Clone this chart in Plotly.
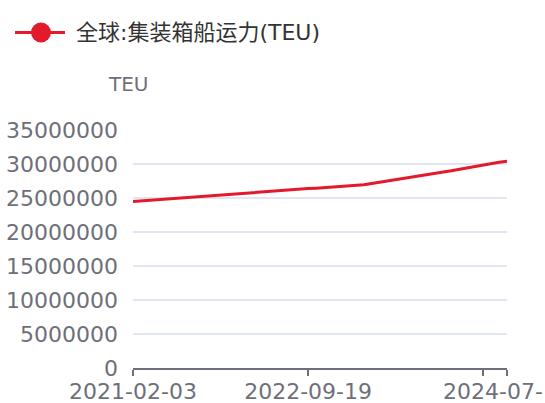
import plotly.graph_objects as go

series_name = "全球:集装箱船运力(TEU)"
y_unit = "TEU"

dates = [
    "2021-02-03", "2021-03-02", "2021-03-29", "2021-04-25", "2021-05-22",
    "2021-06-18", "2021-07-15", "2021-08-11", "2021-09-07", "2021-10-04",
    "2021-10-31", "2021-11-27", "2021-12-24", "2022-01-20", "2022-02-16",
    "2022-03-15", "2022-04-11", "2022-05-08", "2022-06-04", "2022-07-01",
    "2022-07-28", "2022-08-24", "2022-09-19", "2022-10-16", "2022-11-11",
    "2022-12-08", "2023-01-03", "2023-01-30", "2023-02-25", "2023-03-24",
    "2023-04-19", "2023-05-16", "2023-06-11", "2023-07-08", "2023-08-03",
    "2023-08-30", "2023-09-25", "2023-10-22", "2023-11-17", "2023-12-14",
    "2024-01-09", "2024-02-05", "2024-03-02", "2024-03-29", "2024-04-24",
    "2024-05-21", "2024-06-16", "2024-07-13",
]

capacity_teu = [
    24500000, 24590000, 24680000, 24760000, 24850000,
    24940000, 25030000, 25120000, 25200000, 25290000,
    25380000, 25470000, 25560000, 25640000, 25730000,
    25820000, 25910000, 26000000, 26080000, 26170000,
    26250000, 26320000, 26380000, 26450000, 26520000,
    26590000, 26660000, 26740000, 26830000, 26950000,
    27120000, 27320000, 27520000, 27720000, 27920000,
    28100000, 28280000, 28460000, 28640000, 28820000,
    29000000, 29220000, 29440000, 29660000, 29880000,
    30080000, 30260000, 30400000,
]

label_every = 22
y_ticks = [0, 5000000, 10000000, 15000000, 20000000, 25000000, 30000000, 35000000]

RED = "#E3192C"
GRAY = "#6E7079"
FONT = "DejaVu Sans, Noto Sans CJK SC, sans-serif"

W, H = 545, 403
ML, MR, MT, MB = 133, 38, 130, 35
PW, PH = W - ML - MR, H - MT - MB


def px_x(p):
    return (p - ML) / PW


def px_y(p):
    return (H - MB - p) / PH


last = len(dates) - 1
tick_idx = list(range(0, len(dates), label_every))
if tick_idx[-1] != last:
    tick_idx.append(last)
tickvals = [dates[i] for i in tick_idx]
# labels at the first interval ticks and at the axis end (the one before it is hidden by overlap)
ticktext = [dates[i] if (i in (0, label_every) or i == last) else "" for i in tick_idx]

fig = go.Figure()
fig.add_trace(go.Scatter(
    x=dates, y=capacity_teu, mode="lines", name=series_name,
    line=dict(color=RED, width=3), showlegend=False,
))

# legend drawn manually (line + circle + text)
fig.add_shape(type="line", xref="paper", yref="paper",
              x0=px_x(15), x1=px_x(65), y0=px_y(32.5), y1=px_y(32.5),
              line=dict(color=RED, width=3))
fig.add_shape(type="circle", xref="paper", yref="paper",
              x0=px_x(31), x1=px_x(51), y0=px_y(22.5), y1=px_y(42.5),
              fillcolor=RED, line=dict(color=RED, width=0))
fig.add_annotation(xref="paper", yref="paper", x=px_x(74), y=px_y(32.5),
                   text=series_name, showarrow=False, xanchor="left", yanchor="middle",
                   font=dict(family=FONT, size=22, color="#333333"))
fig.add_annotation(xref="paper", yref="paper", x=px_x(128), y=px_y(84),
                   text=y_unit, showarrow=False, xanchor="center", yanchor="middle",
                   font=dict(family=FONT, size=20, color=GRAY))

fig.update_layout(
    width=W, height=H,
    margin=dict(l=ML, r=MR, t=MT, b=MB, pad=0, autoexpand=False),
    paper_bgcolor="white", plot_bgcolor="white",
    font=dict(family=FONT, size=22, color=GRAY),
    xaxis=dict(
        type="category", range=[0, last], automargin=False,
        tickmode="array", tickvals=tickvals, ticktext=ticktext,
        showline=True, linecolor=GRAY, linewidth=1.5,
        ticks="outside", ticklen=6, tickcolor=GRAY, tickwidth=1.5,
        ticklabelstandoff=-3,
        showgrid=False, zeroline=False,
        tickfont=dict(family=FONT, size=22, color=GRAY),
        fixedrange=True,
    ),
    yaxis=dict(
        range=[0, 35000000], tickmode="array", tickvals=y_ticks, automargin=False,
        ticktext=[str(v) for v in y_ticks],
        showgrid=True, gridcolor="#E0E6F1", gridwidth=1.5,
        zeroline=False, showline=False, ticks="",
        ticklabelstandoff=14,
        tickfont=dict(family=FONT, size=22, color=GRAY),
        fixedrange=True,
    ),
)

fig.write_html(
    "out.html",
    config={"displayModeBar": False},
    post_script="document.body.style.margin='0';document.body.style.overflow='hidden';",
)
